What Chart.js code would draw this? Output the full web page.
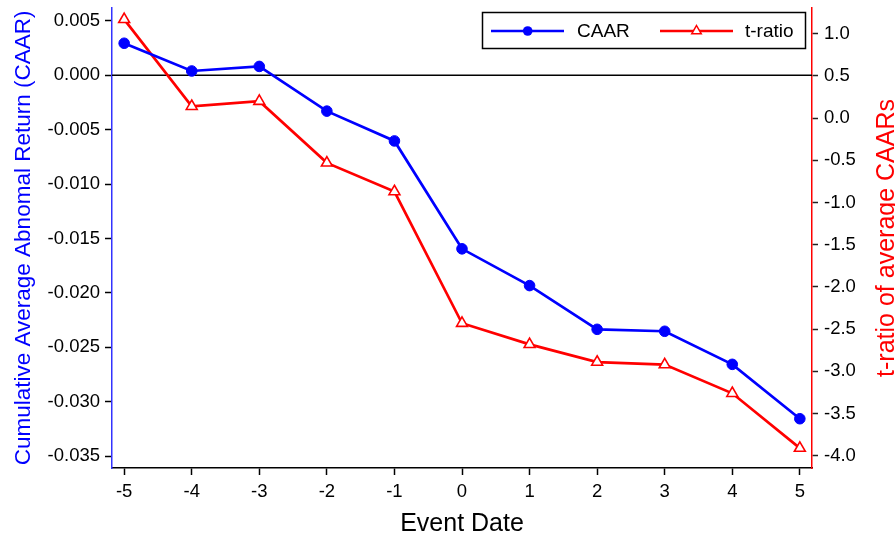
<!DOCTYPE html>
<html>
<head>
<meta charset="utf-8">
<title>CAAR and t-ratio</title>
<script src="https://cdn.jsdelivr.net/npm/chart.js@4.4.0/dist/chart.umd.min.js"></script>
<style>
  body { margin: 0; background: #fff; }
  #wrap { width: 895px; height: 534px; }
</style>
</head>
<body>
<div id="wrap"><canvas id="eventChart" width="895" height="534"></canvas></div>
<script>
// Event window (days around the event)
const eventDates = [-5, -4, -3, -2, -1, 0, 1, 2, 3, 4, 5];
// Cumulative average abnormal return
const caar = [0.00295, 0.0004, 0.00082, -0.00329, -0.00603, -0.01595, -0.01933, -0.02335, -0.02353, -0.02657, -0.03157];
// t-ratio of average CAARs
const tRatio = [1.17, 0.14, 0.2, -0.53, -0.87, -2.43, -2.68, -2.89, -2.92, -3.26, -3.91];

// Tick labels
const caarTicks = [-0.035, -0.03, -0.025, -0.02, -0.015, -0.01, -0.005, 0, 0.005];
const tTicks = [-4, -3.5, -3, -2.5, -2, -1.5, -1, -0.5, 0, 0.5, 1];

const FONT = '"Liberation Sans", Arial, Helvetica, sans-serif';
Chart.defaults.font.family = FONT;
Chart.defaults.color = '#000';

// Horizontal line at CAAR = 0, axis titles and the boxed legend
const extras = {
  id: 'extras',
  beforeDatasetsDraw(chart) {
    const ctx = chart.ctx;
    const area = chart.chartArea;
    const y0 = chart.scales.y.getPixelForValue(0);
    ctx.save();
    ctx.strokeStyle = '#000';
    ctx.lineWidth = 1.5;
    ctx.beginPath();
    ctx.moveTo(area.left, y0);
    ctx.lineTo(area.right, y0);
    ctx.stroke();
    ctx.restore();
  },
  afterDraw(chart) {
    const ctx = chart.ctx;
    const area = chart.chartArea;
    const midY = (area.top + area.bottom) / 2;
    ctx.save();

    // y titles, both read bottom to top
    ctx.textAlign = 'center';
    ctx.textBaseline = 'alphabetic';
    ctx.font = '22.5px ' + FONT;
    ctx.fillStyle = '#0000ff';
    ctx.save();
    ctx.translate(29.5, midY);
    ctx.rotate(-Math.PI / 2);
    ctx.fillText('Cumulative Average Abnomal Return (CAAR)', 0, 0);
    ctx.restore();

    ctx.font = '25px ' + FONT;
    ctx.fillStyle = '#ff0000';
    ctx.save();
    ctx.translate(893.5, midY);
    ctx.rotate(-Math.PI / 2);
    ctx.fillText('t-ratio of average CAARs', 0, 0);
    ctx.restore();

    // x title
    ctx.fillStyle = '#000';
    ctx.fillText('Event Date', (area.left + area.right) / 2, 530.5);

    // legend
    ctx.fillStyle = '#fff';
    ctx.fillRect(482.5, 12.5, 323, 36);
    ctx.strokeStyle = '#000';
    ctx.lineWidth = 1.5;
    ctx.strokeRect(482.5, 12.5, 323, 36);

    const ly = 31;
    ctx.lineWidth = 2.5;
    ctx.strokeStyle = '#0000ff';
    ctx.beginPath();
    ctx.moveTo(491, ly);
    ctx.lineTo(564, ly);
    ctx.stroke();
    ctx.fillStyle = '#0000ff';
    ctx.beginPath();
    ctx.arc(527.7, ly, 4.8, 0, Math.PI * 2);
    ctx.fill();

    ctx.strokeStyle = '#ff0000';
    ctx.beginPath();
    ctx.moveTo(660, ly);
    ctx.lineTo(733, ly);
    ctx.stroke();
    const tx = 696.5, r = 5.5;
    ctx.fillStyle = '#fff';
    ctx.lineWidth = 1.5;
    ctx.beginPath();
    ctx.moveTo(tx, ly - r);
    ctx.lineTo(tx + r * Math.sin(Math.PI / 3), ly + r / 2);
    ctx.lineTo(tx - r * Math.sin(Math.PI / 3), ly + r / 2);
    ctx.closePath();
    ctx.fill();
    ctx.stroke();

    ctx.fillStyle = '#000';
    ctx.font = '19px ' + FONT;
    ctx.textAlign = 'left';
    ctx.textBaseline = 'middle';
    ctx.fillText('CAAR', 577, ly + 1);
    ctx.fillText('t-ratio', 745, ly + 1);

    ctx.restore();
  }
};

// fixed box sizes so the plot area matches the picture
function fixWidth(w) {
  return scale => {
    scale.width = w;
    scale.paddingTop = 0;
    scale.paddingBottom = 0;
  };
}

const ctx = document.getElementById('eventChart');

const eventChart = new Chart(ctx, {
  type: 'line',
  data: {
    datasets: [{
      label: 'CAAR',
      data: eventDates.map((d, i) => ({ x: d, y: caar[i] })),
      yAxisID: 'y',
      borderColor: '#0000ff',
      backgroundColor: '#0000ff',
      borderWidth: 2.7,
      pointStyle: 'circle',
      pointRadius: 5.3,
      pointBorderWidth: 1,
      pointBackgroundColor: '#0000ff',
      tension: 0
    }, {
      label: 't-ratio',
      data: eventDates.map((d, i) => ({ x: d, y: tRatio[i] })),
      yAxisID: 'y1',
      borderColor: '#ff0000',
      backgroundColor: '#fff',
      borderWidth: 2.7,
      pointStyle: 'triangle',
      pointRadius: 6.3,
      pointBorderWidth: 1.6,
      pointBackgroundColor: '#fff',
      tension: 0
    }]
  },
  options: {
    responsive: false,
    animation: false,
    devicePixelRatio: 1,
    layout: { padding: { top: 5, left: 0, right: 0, bottom: 0 } },
    plugins: {
      legend: { display: false },
      tooltip: { enabled: false }
    },
    scales: {
      x: {
        type: 'linear',
        min: -5.18,
        max: 5.18,
        afterBuildTicks: scale => { scale.ticks = eventDates.map(v => ({ value: v })); },
        afterFit: scale => {
          scale.height = 66;
          scale.paddingLeft = 0;
          scale.paddingRight = 0;
        },
        ticks: {
          font: { size: 18.5 },
          color: '#000',
          padding: 6,
          maxRotation: 0,
          callback: v => String(v)
        },
        grid: { drawOnChartArea: false, tickLength: 7, tickColor: '#000', tickWidth: 1.5 },
        border: { color: '#000', width: 1.5 }
      },
      y: {
        position: 'left',
        min: -0.0361,
        max: 0.0062,
        afterBuildTicks: scale => { scale.ticks = caarTicks.map(v => ({ value: v })); },
        afterFit: fixWidth(112),
        ticks: {
          font: { size: 18.5 },
          color: '#000',
          padding: 5,
          callback: v => (Math.abs(v) < 1e-9 ? 0 : v).toFixed(3)
        },
        grid: { drawOnChartArea: false, tickLength: 7, tickColor: '#000', tickWidth: 1.5 },
        border: { color: '#3333ff', width: 1.5 }
      },
      y1: {
        position: 'right',
        min: -4.145,
        max: 1.306,
        afterBuildTicks: scale => { scale.ticks = tTicks.map(v => ({ value: v })); },
        afterFit: fixWidth(83),
        ticks: {
          font: { size: 18.5 },
          color: '#000',
          padding: 6,
          callback: v => (Math.abs(v) < 1e-9 ? 0 : v).toFixed(1)
        },
        grid: { drawOnChartArea: false, tickLength: 6, tickColor: '#222', tickWidth: 1.5 },
        border: { color: '#ff0000', width: 1.5 }
      }
    }
  },
  plugins: [extras]
});
</script>
</body>
</html>
